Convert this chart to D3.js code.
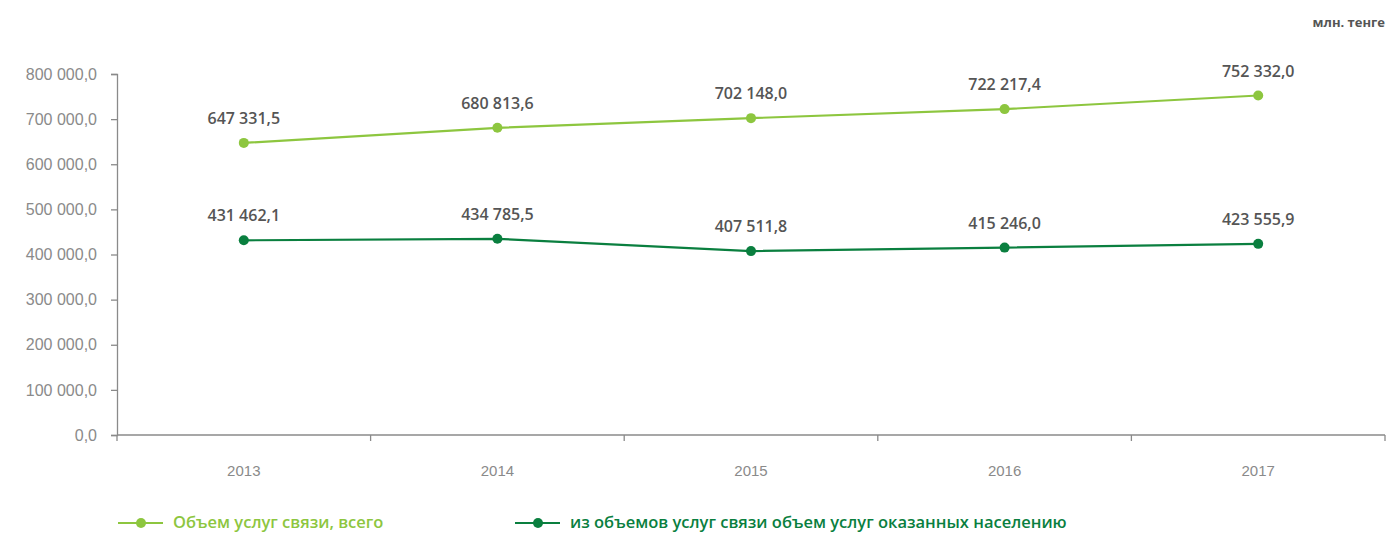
<!DOCTYPE html>
<html>
<head>
<meta charset="utf-8">
<script src="https://cdn.jsdelivr.net/npm/d3@7"></script>
<style>
  body { margin: 0; background: #fff; }
  svg { font-family: "Open Sans", sans-serif; }
</style>
</head>
<body>
<svg id="chart" width="1387" height="533"></svg>
<script>
// data
var years = ["2013", "2014", "2015", "2016", "2017"];
var totalValues = [647331.5, 680813.6, 702148.0, 722217.4, 752332.0];
var populationValues = [431462.1, 434785.5, 407511.8, 415246.0, 423555.9];
var yTicks = [0, 100000, 200000, 300000, 400000, 500000, 600000, 700000, 800000];
var seriesNames = ["Объем услуг связи, всего", "из объемов услуг связи объем услуг оказанных населению"];

var lightGreen = "#8dc63f";
var darkGreen = "#0a7f3f";
var axisColor = "#8a8a8a";

var svg = d3.select("#chart");
var margin = { left: 117, right: 2, top: 74, bottom: 98 };
var width = 1387, height = 533;

var x = d3.scaleBand().domain(years).range([margin.left, width - margin.right]);
var y = d3.scaleLinear().domain([0, 800000]).range([435, 74]);

// format like "647 331,5"
function fmt(v) {
  var s = v.toFixed(1).split(".");
  return s[0].replace(/\B(?=(\d{3})+(?!\d))/g, " ") + "," + s[1];
}

// y axis
var yAxis = svg.append("g")
  .attr("transform", "translate(" + margin.left + ",0)")
  .call(d3.axisLeft(y).tickValues(yTicks).tickSize(6).tickPadding(14).tickFormat(fmt));
yAxis.selectAll("text").attr("fill", axisColor).style("font-size", "16px").style("font-weight", 300);

// x axis
var xAxis = svg.append("g")
  .attr("transform", "translate(0," + y(0) + ")")
  .call(d3.axisBottom(x).tickSize(0).tickPadding(30));
xAxis.selectAll("text").attr("fill", axisColor).style("font-size", "15px").style("font-weight", 300);
// boundary ticks between bands
var bounds = years.map(function (d) { return x(d); }).concat([x(years[years.length - 1]) + x.bandwidth()]);
xAxis.selectAll(".bound").data(bounds).enter().append("line")
  .attr("class", "bound")
  .attr("x1", function (d) { return d; }).attr("x2", function (d) { return d; })
  .attr("y1", 0).attr("y2", 6);
svg.selectAll(".domain, .tick line, .bound").attr("stroke", axisColor).attr("stroke-width", 1.3);
xAxis.select(".domain").attr("d", "M" + margin.left + ",0H" + (width - margin.right));

function drawSeries(values, color) {
  var pts = years.map(function (d, i) { return [x(d) + x.bandwidth() / 2, y(values[i]), values[i]]; });
  svg.append("path")
    .datum(pts)
    .attr("fill", "none")
    .attr("stroke", color)
    .attr("stroke-width", 2.2)
    .attr("d", d3.line());
  svg.selectAll(null).data(pts).enter().append("circle")
    .attr("cx", function (p) { return p[0]; })
    .attr("cy", function (p) { return p[1]; })
    .attr("r", 5)
    .attr("fill", color);
  svg.selectAll(null).data(pts).enter().append("text")
    .attr("x", function (p) { return p[0]; })
    .attr("y", function (p) { return p[1] - 19; })
    .attr("text-anchor", "middle")
    .attr("fill", "#555")
    .style("font-size", "16px")
    .style("font-weight", 600)
    .text(function (p) { return fmt(p[2]); });
}
drawSeries(totalValues, lightGreen);
drawSeries(populationValues, darkGreen);

// unit
svg.append("text")
  .attr("x", 1385).attr("y", 27)
  .attr("text-anchor", "end")
  .attr("fill", "#555")
  .style("font-size", "13px")
  .style("font-weight", 700)
  .text("млн. тенге");

// legend
var legendX = [118, 515];
var colors = [lightGreen, darkGreen];
seriesNames.forEach(function (name, i) {
  var g = svg.append("g").attr("transform", "translate(" + legendX[i] + ",523)");
  g.append("line").attr("x1", 0).attr("x2", 45).attr("y1", 0).attr("y2", 0)
    .attr("stroke", colors[i]).attr("stroke-width", 2.2);
  g.append("circle").attr("cx", 23).attr("cy", 0).attr("r", 5).attr("fill", colors[i]);
  g.append("text").attr("x", 55).attr("y", 5)
    .attr("fill", colors[i])
    .style("font-size", "16.5px")
    .style("font-weight", 600)
    .text(name);
});
</script>
</body>
</html>
